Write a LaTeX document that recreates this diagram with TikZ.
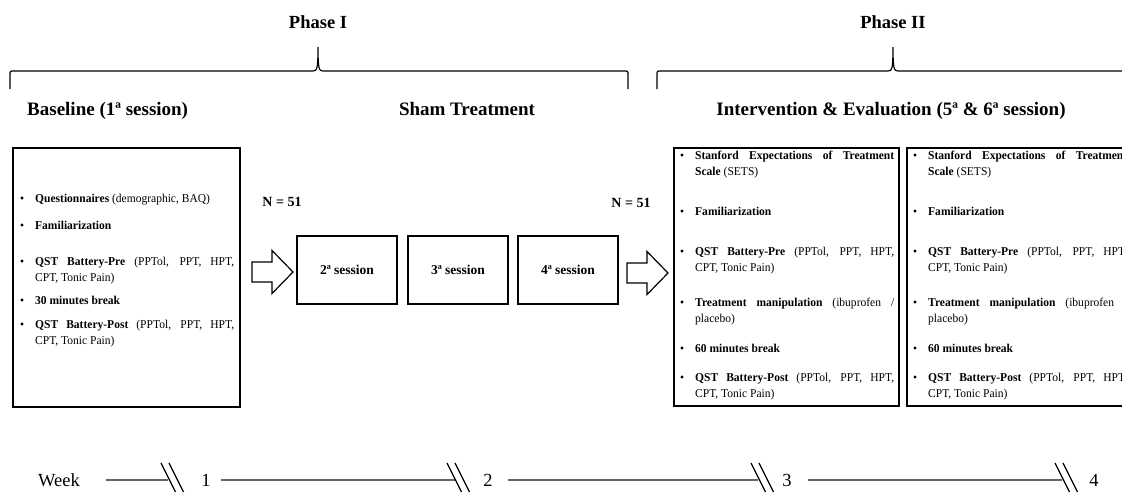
\documentclass[tikz,border=0pt]{standalone}
\usepackage{fontspec}
\setmainfont{Liberation Serif}

\newcommand{\bitem}[2]{\noindent\hangindent=15pt\hangafter=1\makebox[15pt][l]{\textbullet}\textbf{#1} #2\par}
\newcommand{\hollowarrow}[2]{\draw[line width=1.2pt, line join=miter] (#1,#2-10) -- ++(20,0) -- ++(0,-11.5) -- ++(21,21.5) -- ++(-21,21.5) -- ++(0,-11.5) -- ++(-20,0) -- cycle;}
\newcommand{\weekbreak}[1]{\draw[line width=1.3pt] (#1,463) -- ++(15,30) (#1+8,463) -- ++(15,30);}

\begin{document}
\begin{tikzpicture}[x=1pt, y=-1pt,
    bracepen/.style={line width=1.2pt},
    panel/.style={line width=1.4pt},
    bul/.style={anchor=north west, inner sep=0pt, text width=214pt, align=justify, font=\fontsize{12}{15.5}\selectfont\addfontfeatures{FakeStretch=0.96}},
    sess/.style={draw, line width=1.2pt, minimum width=100pt, minimum height=68pt, inner sep=0pt, font=\bfseries\fontsize{13.5}{16}\selectfont},
    heading/.style={inner sep=0pt, font=\bfseries\fontsize{19}{22}\selectfont},
    phase/.style={inner sep=0pt, font=\bfseries\fontsize{18.5}{22}\selectfont},
    nlab/.style={inner sep=0pt, font=\bfseries\fontsize{14}{16}\selectfont},
    wk/.style={inner sep=0pt, anchor=base, font=\fontsize{18.5}{22}\selectfont},
    tline/.style={line width=1.2pt, black!60}]
    \useasboundingbox (0,0) rectangle (1122,491);
    \clip (0,0) rectangle (1122,491);

    % Phases and braces
    \node[phase, anchor=base] (ph1) at (318,28) {Phase I};
    \node[phase, anchor=base] (ph2) at (893,28) {Phase II};
    \draw[bracepen] (10,89) -- (10,75) .. controls (10,71) .. (14,71) -- (313,71) .. controls (317,71) and (318,69) .. (318,47) .. controls (318,69) and (319,71) .. (323,71) -- (624,71) .. controls (628,71) .. (628,75) -- (628,89);
    \draw[bracepen] (657,89) -- (657,75) .. controls (657,71) .. (661,71) -- (888,71) .. controls (892,71) and (893,69) .. (893,47) .. controls (893,69) and (894,71) .. (898,71) -- (1130,71);

    % Headings
    \node[heading, anchor=base west] (hbase) at (27,115) {Baseline (1ª session)};
    \node[heading, anchor=base] (hsham) at (467,115) {Sham Treatment};
    \node[heading, anchor=base] (hint) at (891,115) {Intervention \& Evaluation (5ª \& 6ª session)};

    % Baseline session
    \draw[panel] (13,148) rectangle (240,407);
    \node[bul] (bq) at (20,194) {\bitem{Questionnaires}{(demographic, BAQ)}};
    \node[bul] (bf) at (20,221) {\bitem{Familiarization}{}};
    \node[bul] (bpre) at (20,257) {\bitem{QST Battery-Pre}{(PPTol, PPT, HPT,\linebreak CPT, Tonic Pain)}};
    \node[bul] (bbr) at (20,296) {\bitem{30 minutes break}{}};
    \node[bul] (bpost) at (20,320) {\bitem{QST Battery-Post}{(PPTol, PPT, HPT,\linebreak CPT, Tonic Pain)}};

    % Sham sessions
    \node[nlab] (n1) at (282,202) {N = 51};
    \node[nlab] (n2) at (631,203) {N = 51};
    \hollowarrow{252}{272}
    \node[sess] (s2) at (347,270) {2ª session};
    \node[sess] (s3) at (458,270) {3ª session};
    \node[sess] (s4) at (568,270) {4ª session};
    \hollowarrow{627}{273}

    % Intervention sessions
    \foreach \dx/\nm in {0/a, 233/b}{
        \draw[panel] (674+\dx,148) rectangle (899+\dx,406);
        \node[bul] (sets\nm) at (680+\dx,151) {\bitem{Stanford Expectations of Treatment\linebreak Scale}{(SETS)}};
        \node[bul] (fam\nm) at (680+\dx,207) {\bitem{Familiarization}{}};
        \node[bul] (pre\nm) at (680+\dx,247) {\bitem{QST Battery-Pre}{(PPTol, PPT, HPT,\linebreak CPT, Tonic Pain)}};
        \node[bul] (man\nm) at (680+\dx,298) {\bitem{Treatment manipulation}{(ibuprofen /\linebreak placebo)}};
        \node[bul] (brk\nm) at (680+\dx,344) {\bitem{60 minutes break}{}};
        \node[bul] (post\nm) at (680+\dx,373) {\bitem{QST Battery-Post}{(PPTol, PPT, HPT,\linebreak CPT, Tonic Pain)}};
    }

    % Week timeline
    \node[wk] (week) at (59,486) {Week};
    \node[wk] (w1) at (206,486) {1};
    \node[wk] (w2) at (488,486) {2};
    \node[wk] (w3) at (787,486) {3};
    \node[wk] (w4) at (1094,486) {4};
    \coordinate (t1a) at (106,480);
    \coordinate (t1b) at (168,480);
    \coordinate (t2a) at (221,480);
    \coordinate (t2b) at (455,480);
    \coordinate (t3a) at (508,480);
    \coordinate (t3b) at (758,480);
    \coordinate (t4a) at (808,480);
    \coordinate (t4b) at (1062,480);
    \draw[tline] (t1a) -- (t1b);
    \draw[tline] (t2a) -- (t2b);
    \draw[tline] (t3a) -- (t3b);
    \draw[tline] (t4a) -- (t4b);
    \weekbreak{161}
    \weekbreak{447}
    \weekbreak{751}
    \weekbreak{1055}
\end{tikzpicture}
\end{document}
